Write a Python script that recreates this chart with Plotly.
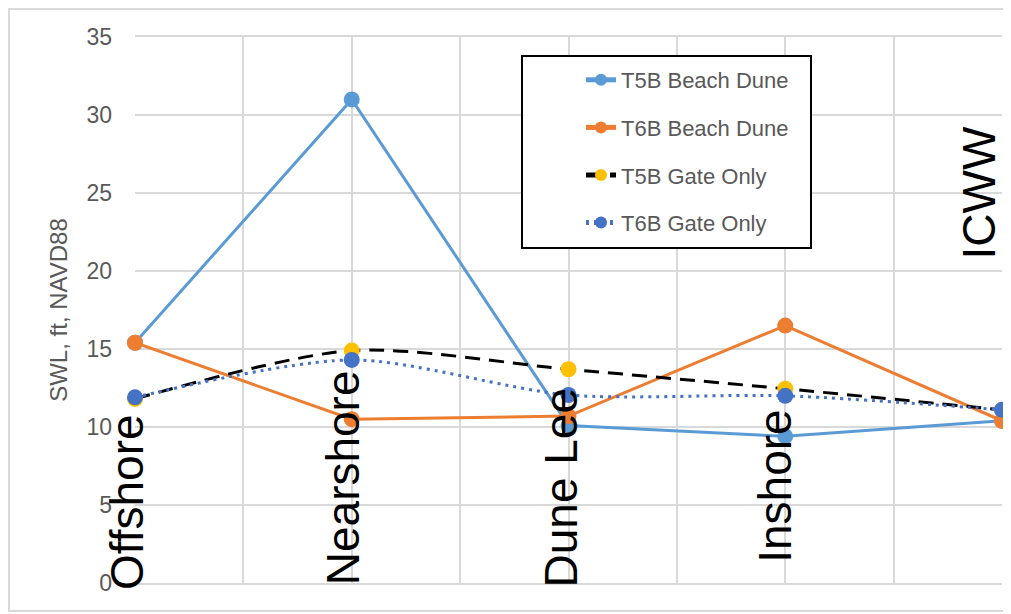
import plotly.graph_objects as go

# ---------------- data ----------------
categories = ["Offshore", "Nearshore", "Dune Lee", "Inshore", "ICWW"]
t5b_beach_dune = [15.4, 31.0, 10.1, 9.4, 10.4]
t6b_beach_dune = [15.4, 10.5, 10.7, 16.5, 10.4]
t5b_gate_only = [11.8, 14.9, 13.7, 12.45, 11.1]
t6b_gate_only = [11.9, 14.3, 12.05, 12.0, 11.1]
y_ticks = [0, 5, 10, 15, 20, 25, 30, 35]

# category positions on a numeric axis (one grid cell between categories)
x_pos = [2 * i for i in range(len(categories))]

FONT = "Liberation Sans"
GRAY = "#595959"
GRID = "#d9d9d9"

# the page body adds an 8px offset; plot area target (viewport px): x 135..1002, y 37..583
OFF = 8
PL, PR, PT, PB = 135, 1002, 37, 583
W, H = 1011, 614

fig = go.Figure()

fig.add_trace(go.Scatter(
    x=x_pos, y=t5b_beach_dune, name="T5B Beach Dune", mode="lines+markers",
    line=dict(color="#5B9BD5", width=3),
    marker=dict(color="#5B9BD5", size=16),
    cliponaxis=False, legendgroup="a"))
fig.add_trace(go.Scatter(
    x=x_pos, y=t6b_beach_dune, name="T6B Beach Dune", mode="lines+markers",
    line=dict(color="#ED7D31", width=3),
    marker=dict(color="#ED7D31", size=16),
    cliponaxis=False, legendgroup="b"))
fig.add_trace(go.Scatter(
    x=x_pos, y=t5b_gate_only, name="T5B Gate Only", mode="lines+markers",
    line=dict(color="#000000", width=3, dash="15px,9px", shape="spline", smoothing=0.8),
    marker=dict(color="#FFC000", size=16),
    cliponaxis=False, legendgroup="c"))
fig.add_trace(go.Scatter(
    x=x_pos, y=t6b_gate_only, name="T6B Gate Only", mode="lines+markers",
    line=dict(color="#4472C4", width=3, dash="3px,5px", shape="spline", smoothing=0.8),
    marker=dict(color="#4472C4", size=16),
    cliponaxis=False, legendgroup="d"))

# big rotated category labels
label_pos = {
    "Offshore": dict(y=0, xshift=-8, yshift=-9),
    "Nearshore": dict(y=0, xshift=-9, yshift=-4),
    "Dune Lee": dict(y=0, xshift=-8, yshift=-7),
    "Inshore": dict(y=0, xshift=-11, yshift=18),
    "ICWW": dict(y=20.9, xshift=-23, yshift=-5),
}
for xp, cat in zip(x_pos, categories):
    p = label_pos[cat]
    fig.add_annotation(
        x=xp, y=p["y"], xref="x", yref="y", text=cat, showarrow=False,
        textangle=-90, xanchor="center", yanchor="bottom",
        xshift=p["xshift"], yshift=p["yshift"],
        font=dict(family=FONT, size=46, color="#000000"))

pw, ph = PR - PL, PB - PT


def px_x(v):
    return (v - PL) / pw


def px_y(v):
    return (PB - v) / ph


# outer chart border (kept just inside the figure)
fig.add_shape(type="rect", xref="paper", yref="paper",
              x0=px_x(OFF + 1), x1=px_x(1016), y0=px_y(611), y1=px_y(OFF + 1),
              line=dict(color=GRID, width=2), layer="below")

# legend frame (white box with black border), legend drawn on top of it
fig.add_shape(type="rect", xref="paper", yref="paper",
              x0=px_x(522), x1=px_x(811), y0=px_y(248), y1=px_y(56),
              line=dict(color="#000000", width=2), fillcolor="white", layer="above")

fig.update_layout(
    width=W, height=H,
    margin=dict(l=PL - OFF, r=W - (PR - OFF), t=PT - OFF, b=H - (PB - OFF)),
    paper_bgcolor="white", plot_bgcolor="white",
    font=dict(family=FONT, color=GRAY),
    showlegend=True,
    legend=dict(
        x=px_x(567), y=px_y(59), xanchor="left", yanchor="top",
        bgcolor="rgba(0,0,0,0)", borderwidth=0,
        font=dict(family=FONT, size=22, color=GRAY),
        tracegroupgap=16, itemsizing="constant", indentation=14,
    ),
    xaxis=dict(
        range=[0, 8], tickmode="linear", tick0=0, dtick=1,
        showticklabels=False, showgrid=True, gridcolor=GRID, gridwidth=2,
        zeroline=False, showline=True, linecolor=GRID, linewidth=2, mirror=True,
        ticks="", fixedrange=True),
    yaxis=dict(
        range=[0, 35], tickvals=y_ticks,
        showgrid=True, gridcolor=GRID, gridwidth=2,
        zeroline=False, showline=False, ticks="",
        tickfont=dict(family=FONT, size=23, color=GRAY),
        ticklabelstandoff=22,
        title=dict(text="SWL, ft, NAVD88", standoff=12,
                   font=dict(family=FONT, size=24, color=GRAY)),
        fixedrange=True),
)

fig.write_html("out.html")
